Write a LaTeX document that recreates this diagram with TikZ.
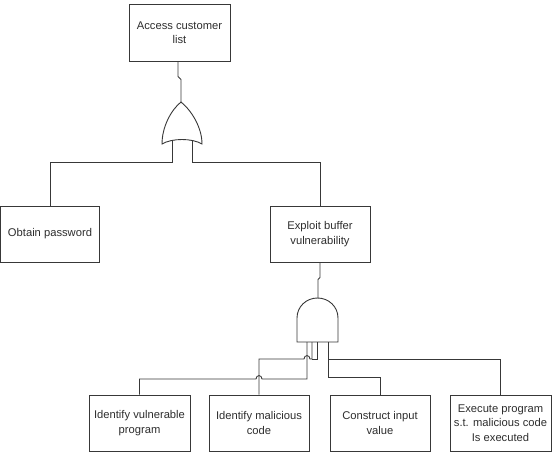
\documentclass[tikz,border=0pt]{standalone}
\usepackage{fontspec}
\setmainfont{Liberation Sans}
\begin{document}
\begin{tikzpicture}[x=1pt,y=-1pt,
  wire/.style={draw=black!78,line width=0.9pt,line join=miter},
  event/.style={draw=black!78,line width=0.9pt,fill=white,inner sep=0pt,
    align=center,text=black!82,
    font=\fontsize{11.2}{14.4}\selectfont},
  gate/.style={draw=black!78,line width=0.9pt,fill=white}]
\useasboundingbox (0,0) rectangle (552,458);

% events
\node[event,minimum width=101pt,minimum height=57pt] (access) at (179.5,32.5) {Access customer\\list};
\node[event,minimum width=99pt,minimum height=56pt] (obtain) at (50,234) {Obtain password};
\node[event,minimum width=100pt,minimum height=56pt] (exploit) at (320,234) {Exploit buffer\\vulnerability};
\node[event,minimum width=101pt,minimum height=56pt] (vuln) at (139.5,423) {Identify vulnerable\\program};
\node[event,minimum width=100pt,minimum height=56pt] (malic) at (259,423) {Identify malicious\\code};
\node[event,minimum width=100pt,minimum height=56pt] (construct) at (380,423) {Construct input\\value};
\node[event,minimum width=101pt,minimum height=56pt] (execute) at (500.5,423) {Execute program\\s.t. malicious code\\Is executed};

% OR gate
\path[gate] (181,102) .. controls (171,110) and (162,127) .. (162,144)
  .. controls (172,138) and (192,138) .. (202,144)
  .. controls (202,127) and (191,110) .. (181,102) -- cycle;
\coordinate (orOut) at (181,102);
\coordinate (orL) at (172,141);
\coordinate (orR) at (192,141);

% AND gate
\path[gate] (297,342) -- (297,318) .. controls (297,306.7) and (306.2,298) .. (317.5,298)
  .. controls (328.8,298) and (338,306.7) .. (338,318) -- (338,342) -- cycle;
\coordinate (andOut) at (318,298);
\coordinate (andA) at (307,342);
\coordinate (andB) at (312,342);
\coordinate (andC) at (317,342);
\coordinate (andD) at (328,342);

% connectors of the OR gate
\draw[wire] ([xshift=-1.5pt]access.south) -- ++(0,15) -- ++(3,3) -- (orOut);
\draw[wire] (orL) -- ++(0,21) -| (obtain.north);
\draw[wire] (orR) -- ++(0,21) -| (exploit.north);

% connectors of the AND gate
\draw[wire] (exploit.south) -- ++(0,15) -- ++(-2,2) -- (andOut);
\draw[wire] (andA) -- (307,379) -- (262,379)
  .. controls (262,374.5) and (256,374.5) .. (256,379) -| (vuln.north);
\draw[wire] (malic.north) |- (304,359)
  .. controls (304,354.5) and (310,354.5) .. (310,359) -| (andB);
\draw[wire] (andC) |- (312,359);
\draw[wire] (construct.north) -- ++(0,-17) -| (andD);
\draw[wire] (execute.north) |- (328,359);
\end{tikzpicture}
\end{document}
